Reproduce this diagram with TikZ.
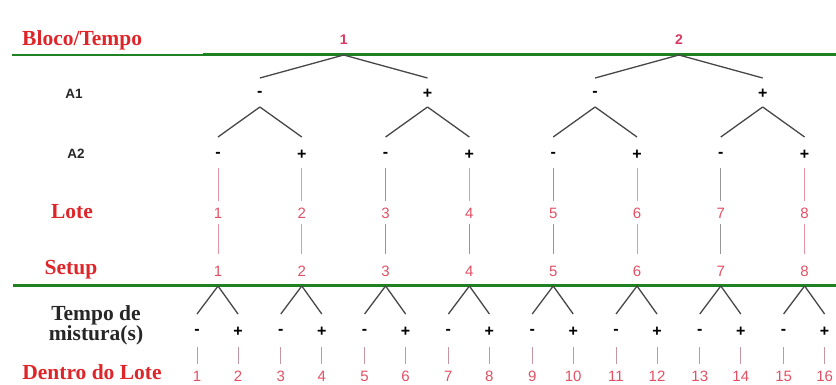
\documentclass[tikz,border=0pt]{standalone}
\usepackage{fontspec}
\setmainfont{Liberation Serif}
\newfontfamily\sansf{Liberation Sans}
\definecolor{labred}{RGB}{222,38,42}
\definecolor{blkred}{RGB}{220,55,95}
\definecolor{numred}{RGB}{226,80,100}
\definecolor{gline}{RGB}{30,130,35}
\definecolor{pinkl}{RGB}{228,150,168}
\definecolor{grayl}{RGB}{150,150,150}
\tikzset{
  lab/.style={font=\fontsize{21.5}{20}\selectfont\bfseries, text=labred, inner sep=0pt},
  blab/.style={lab, text=black!85, align=center},
  alab/.style={font=\sansf\bfseries\fontsize{13.5}{13.5}\selectfont, text=black!85, inner sep=0pt},
  blk/.style={font=\sansf\bfseries\fontsize{14}{14}\selectfont, text=blkred, inner sep=0pt},
  num/.style={font=\sansf\fontsize{15}{15}\selectfont, text=numred, inner sep=0pt},
  sgn/.style={font=\sansf\bfseries\fontsize{16}{16}\selectfont, text=black, inner sep=0pt},
  tree/.style={draw=black!72, line width=1.3pt},
  vline/.style={line width=1pt},
  green line/.style={draw=gline, line width=3pt}
}
\begin{document}
\begin{tikzpicture}[x=1pt,y=-1pt]
\useasboundingbox (0,0) rectangle (836,385);
% horizontal green lines
\coordinate (g0) at (12,55);
\coordinate (g1) at (203,55);
\coordinate (g2) at (836,55);
\coordinate (h0) at (13,285);
\coordinate (h1) at (836,285);
\draw[draw=gline, line width=1.2pt] (g0) -- (g1);
\draw[green line] (g1) -- (g2);
\draw[green line] (h0) -- (h1);
% row labels
\node[lab, anchor=west] (lbt) at (22,40) {Bloco/Tempo};
\node[alab] (la1) at (74,94) {A1};
\node[alab] (la2) at (76,154) {A2};
\node[lab] (llote) at (72,212) {Lote};
\node[lab] (lsetup) at (71,270) {Setup};
\node[blab] (ltempo) at (96,325) {Tempo de\\mistura(s)};
\node[lab] (ldentro) at (92,372) {Dentro do Lote};
% blocks
\foreach \k in {1,2} {
  \pgfmathsetmacro\bx{343.7+335.2*(\k-1)}
  \node[blk] (B\k) at (\bx,40) {\k};
  \coordinate (T\k) at (\bx,55);
}
% A1 level
\foreach \j in {1,...,4} {
  \pgfmathsetmacro\ax{259.9+167.6*(\j-1)}
  \pgfmathtruncatemacro\pb{(\j+1)/2}
  \ifodd\j \def\sg{-}\else\def\sg{+}\fi
  \node[sgn] (P\j) at (\ax,94) {\sg};
  \coordinate (Pt\j) at (\ax,78);
  \coordinate (V\j) at (\ax,107);
  \draw[tree] (T\pb) -- (Pt\j);
}
% A2 level, Lote, Setup
\foreach \i/\ca/\cb in {1/pinkl/pinkl,2/pinkl/pinkl,3/grayl/grayl,4/pinkl/grayl,5/grayl/grayl,6/pinkl/pinkl,7/grayl/grayl,8/pinkl/pinkl} {
  \pgfmathsetmacro\xx{218+83.8*(\i-1)}
  \pgfmathtruncatemacro\pa{(\i+1)/2}
  \ifodd\i \def\sg{-}\else\def\sg{+}\fi
  \node[sgn] (Q\i) at (\xx,155) {\sg};
  \coordinate (Qt\i) at (\xx,137);
  \draw[tree] (V\pa) -- (Qt\i);
  \node[num] (L\i) at (\xx,213) {\i};
  \node[num] (S\i) at (\xx,271) {\i};
  \draw[vline, draw=\ca, shorten <=13pt, shorten >=12pt] (Q\i.center) -- (L\i.center);
  \draw[vline, draw=\cb, shorten <=11pt, shorten >=17pt] (L\i.center) -- (S\i.center);
  \coordinate (U\i) at (\xx,286);
}
% within lot
\foreach \m in {1,...,16} {
  \pgfmathtruncatemacro\pc{(\m+1)/2}
  \ifodd\m
    \pgfmathsetmacro\dx{218+83.8*(\pc-1)-21}\def\sg{-}
  \else
    \pgfmathsetmacro\dx{218+83.8*(\pc-1)+20}\def\sg{+}
  \fi
  \node[sgn] (D\m) at (\dx,332) {\sg};
  \coordinate (Dt\m) at (\dx,314);
  \node[num] (N\m) at (\dx,376) {\m};
  \draw[tree] (U\pc) -- (Dt\m);
  \draw[vline, draw=pinkl!60!grayl, shorten <=15pt, shorten >=12pt] (D\m.center) -- (N\m.center);
}
\end{tikzpicture}
\end{document}
